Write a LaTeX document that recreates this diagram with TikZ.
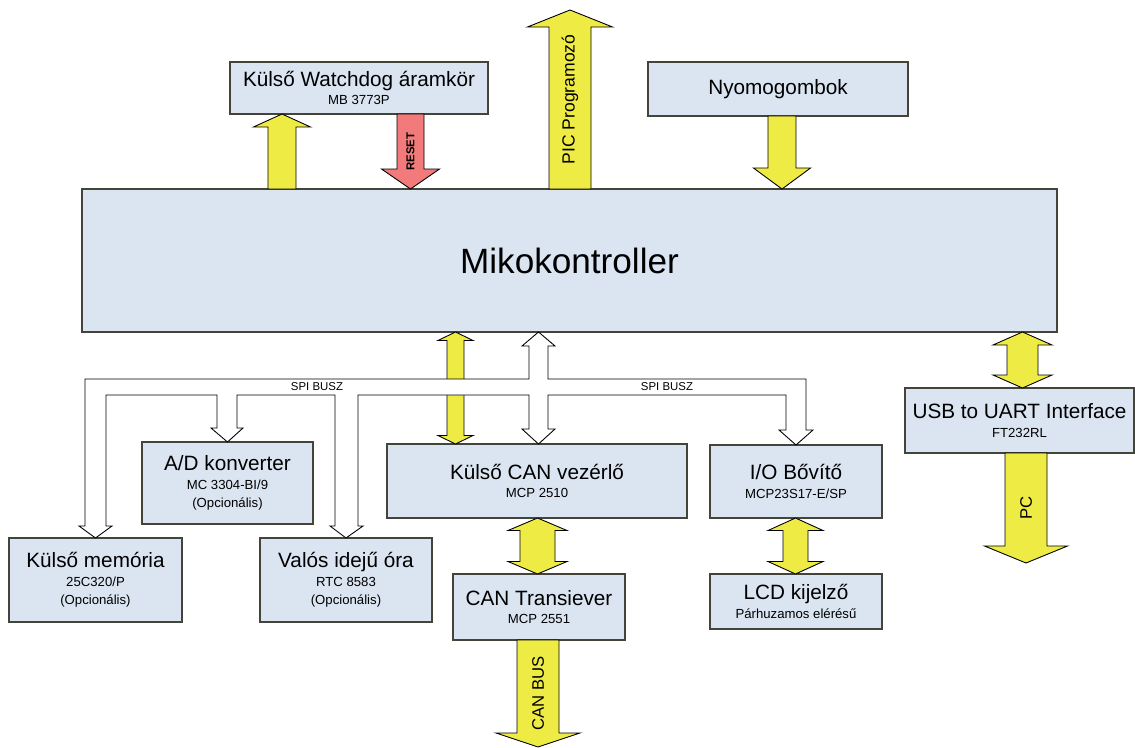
\documentclass[tikz,border=0pt]{standalone}
\usepackage{fontspec}
\setmainfont{Liberation Sans}
\usetikzlibrary{calc}

\definecolor{boxfill}{HTML}{DBE5F1}
\definecolor{boxline}{HTML}{44443A}
\definecolor{arryellow}{HTML}{EFEB45}
\definecolor{arrred}{HTML}{F27A7A}

\tikzset{
  block/.style={draw=boxline, fill=boxfill, line width=0.7pt, inner sep=0pt, outer sep=0pt,
    align=center, font=\fontsize{11.8}{10.5}\selectfont},
  yel/.style={draw=black, fill=arryellow, line width=0.5pt},
  resetarr/.style={draw=black, fill=arrred, line width=0.5pt},
  wht/.style={draw=black, fill=white, line width=0.5pt},
  arrlabel/.style={rotate=90, font=\fontsize{9.5}{10}\selectfont},
  buslabel/.style={font=\fontsize{6.5}{7}\selectfont}
}

\newcommand{\chipname}[1]{{\fontsize{7.5}{10.5}\selectfont #1}}

% block arrow: [label]{style}{tail}{tip}{half stem}{half head}{head length}
\newcommand{\blkarrow}[7][]{%
  \coordinate (ba-t) at (#3);
  \coordinate (ba-p) at (#4);
  \coordinate (ba-b) at ($(ba-p)!#7*0.02cm!(ba-t)$);
  \draw[#2] ($(ba-t)!#5*0.02cm!90:(ba-p)$) -- ($(ba-b)!#5*0.02cm!90:(ba-p)$)
    -- ($(ba-b)!#6*0.02cm!90:(ba-p)$) -- (ba-p) -- ($(ba-b)!#6*0.02cm!-90:(ba-p)$)
    -- ($(ba-b)!#5*0.02cm!-90:(ba-p)$) -- ($(ba-t)!#5*0.02cm!-90:(ba-p)$) -- cycle;
  \if\relax\detokenize{#1}\relax\else
    \node[arrlabel] at ($(ba-t)!0.5!(ba-p)$) {#1};
  \fi
}

% double block arrow: {style}{end a}{end b}{half stem}{half head}{head length}
\newcommand{\blkboth}[6]{%
  \coordinate (bb-a) at (#2);
  \coordinate (bb-b) at (#3);
  \coordinate (bb-1) at ($(bb-a)!#6*0.02cm!(bb-b)$);
  \coordinate (bb-2) at ($(bb-b)!#6*0.02cm!(bb-a)$);
  \draw[#1] (bb-a) -- ($(bb-1)!#5*0.02cm!90:(bb-b)$) -- ($(bb-1)!#4*0.02cm!90:(bb-b)$)
    -- ($(bb-2)!#4*0.02cm!90:(bb-b)$) -- ($(bb-2)!#5*0.02cm!90:(bb-b)$) -- (bb-b)
    -- ($(bb-2)!#5*0.02cm!-90:(bb-b)$) -- ($(bb-2)!#4*0.02cm!-90:(bb-b)$)
    -- ($(bb-1)!#4*0.02cm!-90:(bb-b)$) -- ($(bb-1)!#5*0.02cm!-90:(bb-b)$) -- cycle;
}

\begin{document}
\begin{tikzpicture}[x=0.02cm, y=-0.02cm]
\useasboundingbox (0,0) rectangle (1135,747);

\node[block, minimum width=19.5cm, minimum height=2.86cm, font=\fontsize{20}{22}\selectfont] (mcu) at (569.5,260.5) {Mikokontroller};
\node[block, minimum width=5.16cm, minimum height=1.04cm] (wd) at (359,88) {Külső Watchdog áramkör\\\chipname{MB 3773P}};
\node[block, minimum width=5.2cm, minimum height=1.08cm] (gomb) at (778,89) {Nyomogombok};
\node[block, minimum width=3.42cm, minimum height=1.64cm] (adc) at (227.5,483) {A/D konverter\\\chipname{MC 3304-BI/9}\\\chipname{(Opcionális)}};
\node[block, minimum width=3.46cm, minimum height=1.68cm] (mem) at (95.5,580) {Külső memória\\\chipname{25C320/P}\\\chipname{(Opcionális)}};
\node[block, minimum width=3.44cm, minimum height=1.68cm] (rtc) at (346,580) {Valós idejű óra\\\chipname{RTC 8583}\\\chipname{(Opcionális)}};
\node[block, minimum width=6cm, minimum height=1.48cm] (canc) at (537,481) {Külső CAN vezérlő\\\chipname{MCP 2510}};
\node[block, minimum width=3.44cm, minimum height=1.46cm] (io) at (796,481.5) {I/O Bővítő\\\chipname{MCP23S17-E/SP}};
\node[block, minimum width=3.44cm, minimum height=1.1cm] (lcd) at (796,601.5) {LCD kijelző\\\chipname{Párhuzamos elérésű}};
\node[block, minimum width=3.44cm, minimum height=1.32cm] (cant) at (539,607) {CAN Transiever\\\chipname{MCP 2551}};
\node[block, minimum width=4.58cm, minimum height=1.3cm] (usb) at (1019.5,420.5) {USB to UART Interface\\\chipname{FT232RL}};

\coordinate (prog) at (570,10);
\coordinate (pc) at (1026,563);
\coordinate (canbus) at (538,747);

\blkboth{yel}{455.5,0 |- mcu.south}{455.5,0 |- canc.north}{8.5}{17.5}{8.5}

%SPI bus
\draw[wht] (529,379) -- (85,379) -- (85,526) -- (79,526) -- (95.5,0 |- mem.north) -- (112,526) -- (106,526)
  -- (106,395) -- (217,395) -- (217,428) -- (211,428) -- (227.5,0 |- adc.north) -- (243,428) -- (237,428)
  -- (237,395) -- (335,395) -- (335,526) -- (330,526) -- (346,0 |- rtc.north) -- (363,526) -- (358,526)
  -- (358,395) -- (529,395) -- (529,429) -- (522,429) -- (538.5,0 |- canc.north) -- (555,429) -- (548,429)
  -- (548,395) -- (786,395) -- (786,430) -- (779,430) -- (796,0 |- io.north) -- (813,430) -- (806,430)
  -- (806,379) -- (548,379) -- (548,346) -- (555,346) -- (538.5,0 |- mcu.south) -- (522,346) -- (529,346) -- cycle;
\node[buslabel] (spi1) at (317,387) {SPI BUSZ};
\node[buslabel] (spi2) at (667,387) {SPI BUSZ};

\blkarrow{yel}{282,0 |- mcu.north}{282,0 |- wd.south}{14}{28.5}{13}
\blkarrow[\textbf{\fontsize{6.5}{7}\selectfont RESET}]{resetarr}{410.5,0 |- wd.south}{410.5,0 |- mcu.north}{13.5}{29}{20}
\blkarrow[\fontsize{10}{11}\selectfont PIC Programozó]{yel}{570,0 |- mcu.north}{prog}{21}{42.5}{17}
\blkarrow{yel}{782,0 |- gomb.south}{782,0 |- mcu.north}{14}{28.5}{21}
\blkboth{yel}{1022.5,0 |- mcu.south}{1022.5,0 |- usb.north}{15.5}{29.5}{13}
\blkarrow[PC]{yel}{1026,0 |- usb.south}{pc}{21}{41.5}{17}
\blkboth{yel}{537.5,0 |- canc.south}{537.5,0 |- cant.north}{17.5}{29.5}{12.5}
\blkboth{yel}{795.5,0 |- io.south}{795.5,0 |- lcd.north}{12.5}{27.5}{12.5}
\blkarrow[CAN BUS]{yel}{538,0 |- cant.south}{canbus}{21}{42}{14}
\end{tikzpicture}
\end{document}
